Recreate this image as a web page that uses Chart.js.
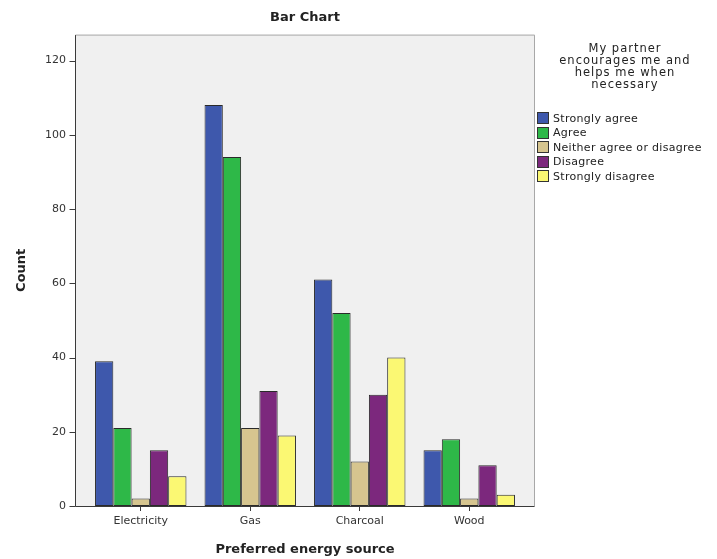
<!DOCTYPE html>
<html>
<head>
<meta charset="utf-8">
<script src="https://cdn.jsdelivr.net/npm/chart.js@4.4.0/dist/chart.umd.min.js"></script>
<style>
  body { margin: 0; background: #fff; }
  #wrap { position: relative; width: 717px; height: 559px; }
  #legendTitle {
    position: absolute; left: 540px; top: 42px; width: 170px;
    font: 11.5px "DejaVu Sans", sans-serif; line-height: 12px;
    letter-spacing: 1px; text-align: center; color: #222;
  }
  #legendItems {
    position: absolute; left: 537px; top: 111px;
    font: 11px "DejaVu Sans", sans-serif; color: #222; letter-spacing: 0.3px;
  }
  .item { display: flex; align-items: center; height: 14.5px; white-space: nowrap; }
  .swatch { width: 12px; height: 12px; border: 1px solid #333; margin-right: 4px; box-sizing: border-box; }
</style>
</head>
<body>
<div id="wrap">
  <canvas id="chart" width="717" height="559"></canvas>
  <div id="legendTitle"></div>
  <div id="legendItems"></div>
</div>
<script>
const categories = ['Electricity', 'Gas', 'Charcoal', 'Wood'];
const responses = ['Strongly agree', 'Agree', 'Neither agree or disagree', 'Disagree', 'Strongly disagree'];
const stronglyAgree = [39, 108, 61, 15];
const agree = [21, 94, 52, 18];
const neither = [2, 21, 12, 2];
const disagree = [15, 31, 30, 11];
const stronglyDisagree = [8, 19, 40, 3];
const yTicks = [0, 20, 40, 60, 80, 100, 120];
const legendTitle = ['My partner', 'encourages me and', 'helps me when', 'necessary'];

const colors = ['#3e58ac', '#2eb848', '#d6c58f', '#7c287d', '#fbf873'];
const series = [stronglyAgree, agree, neither, disagree, stronglyDisagree];

const FRAME_EXTRA = 11;
const fontFamily = '"DejaVu Sans", sans-serif';

const framePlugin = {
  id: 'frame',
  beforeDraw(chart) {
    const { ctx, chartArea } = chart;
    const left = chartArea.left - FRAME_EXTRA;
    const right = chartArea.right + FRAME_EXTRA;
    ctx.save();
    ctx.fillStyle = '#f0f0f0';
    ctx.fillRect(left, chartArea.top, right - left, chartArea.bottom - chartArea.top);
    ctx.restore();
  },
  afterDatasetsDraw(chart) {
    const { ctx, chartArea, scales } = chart;
    const left = chartArea.left - FRAME_EXTRA + 0.5;
    const right = chartArea.right + FRAME_EXTRA - 0.5;
    const top = chartArea.top + 0.5;
    const bottom = chartArea.bottom + 0.5;
    ctx.save();
    ctx.lineWidth = 1;
    ctx.strokeStyle = '#a8a8a8';
    ctx.beginPath();
    ctx.moveTo(left, top);
    ctx.lineTo(right, top);
    ctx.lineTo(right, bottom);
    ctx.stroke();
    ctx.strokeStyle = '#3a3a3a';
    ctx.beginPath();
    ctx.moveTo(left, top);
    ctx.lineTo(left, bottom);
    ctx.lineTo(right, bottom);
    ctx.stroke();
    yTicks.forEach((v) => {
      const y = Math.round(scales.y.getPixelForValue(v)) + 0.5;
      ctx.beginPath();
      ctx.moveTo(left - 6, y);
      ctx.lineTo(left, y);
      ctx.stroke();
    });
    ctx.restore();
  }
};

new Chart(document.querySelector('#chart'), {
  type: 'bar',
  data: {
    labels: categories,
    datasets: responses.map((label, i) => ({
      label,
      data: series[i],
      backgroundColor: colors[i],
      borderColor: '#2a2a2a',
      borderWidth: 1,
      borderSkipped: false,
      categoryPercentage: 0.835,
      barPercentage: 1
    }))
  },
  options: {
    responsive: false,
    animation: false,
    layout: { padding: { left: 0, right: 193, top: 0, bottom: 0 } },
    plugins: {
      legend: { display: false },
      tooltip: { enabled: false },
      title: {
        display: true,
        text: 'Bar Chart',
        fullSize: false,
        color: '#222',
        font: { family: fontFamily, size: 13, weight: 'bold' },
        padding: { top: 10, bottom: 9 }
      }
    },
    scales: {
      x: {
        afterFit(scale) { scale.height = 53; },
        grid: { display: true, drawOnChartArea: false, offset: false, tickLength: 5, color: '#3a3a3a' },
        border: { display: false },
        ticks: { color: '#333', font: { family: fontFamily, size: 11 }, padding: 4 },
        title: {
          display: true,
          text: 'Preferred energy source',
          color: '#222',
          font: { family: fontFamily, size: 13, weight: 'bold' },
          padding: { top: 0, bottom: 2 }
        }
      },
      y: {
        min: 0,
        max: 127,
        afterFit(scale) { scale.width = 86; },
        afterBuildTicks(scale) { scale.ticks = yTicks.map((v) => ({ value: v })); },
        grid: { display: false, drawTicks: false },
        border: { display: false },
        ticks: { color: '#333', font: { family: fontFamily, size: 11 }, padding: 20 },
        title: {
          display: true,
          text: 'Count',
          color: '#222',
          font: { family: fontFamily, size: 13, weight: 'bold' },
          padding: { top: 14, bottom: 0 }
        }
      }
    }
  },
  plugins: [framePlugin]
});

document.querySelector('#legendTitle').innerHTML = legendTitle.map((t) => `<div>${t}</div>`).join('');
document.querySelector('#legendItems').innerHTML = responses.map((label, i) => `
  <div class="item"><span class="swatch" style="background:${colors[i]}"></span>${label}</div>
`).join('');
</script>
</body>
</html>
